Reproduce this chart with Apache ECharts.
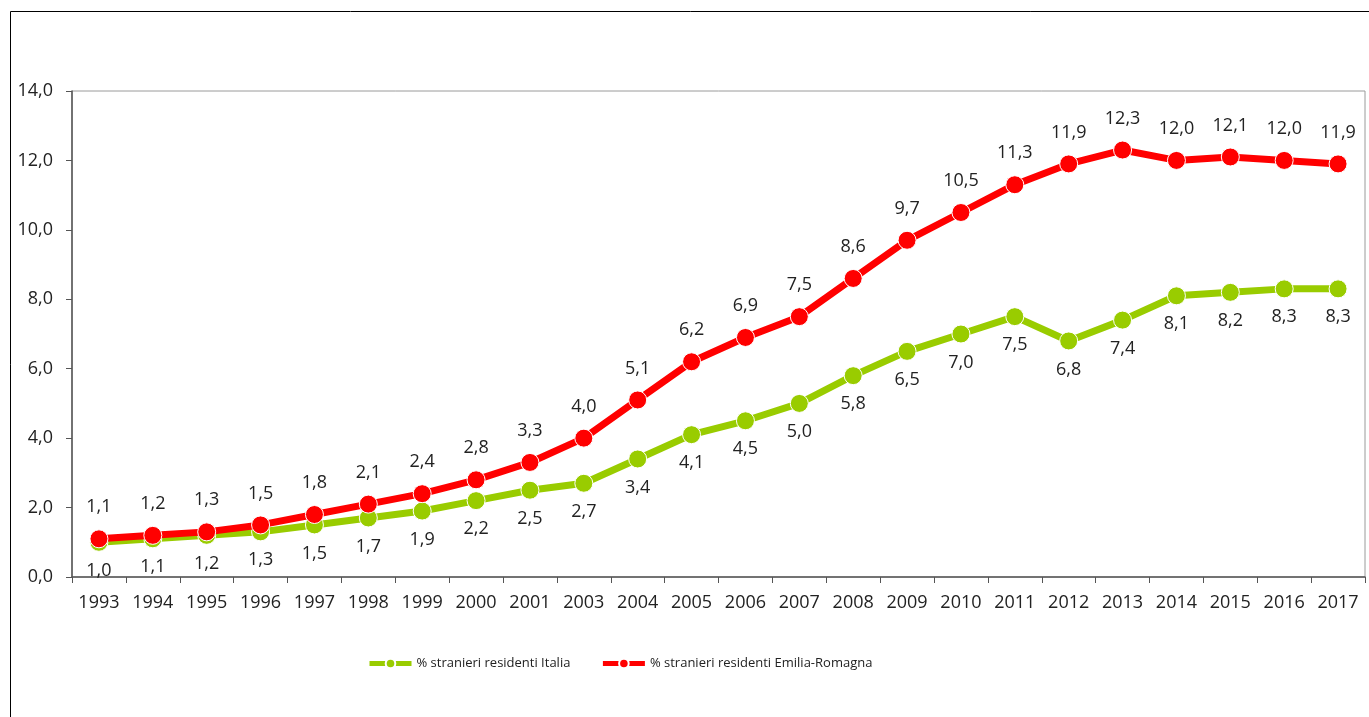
<!DOCTYPE html>
<html>
<head>
<meta charset="utf-8">
<script src="https://cdn.jsdelivr.net/npm/echarts@6/dist/echarts.min.js"></script>
<style>
  html, body { margin: 0; padding: 0; background: #fff; }
  #container { width: 1369px; height: 717px; }
</style>
</head>
<body>
<div id="container"></div>
<script>
// anni (il 2002 manca nella serie originale)
var anni = ['1993','1994','1995','1996','1997','1998','1999','2000','2001','2003','2004','2005',
            '2006','2007','2008','2009','2010','2011','2012','2013','2014','2015','2016','2017'];
var italia = [1.0,1.1,1.2,1.3,1.5,1.7,1.9,2.2,2.5,2.7,3.4,4.1,4.5,5.0,5.8,6.5,7.0,7.5,6.8,7.4,8.1,8.2,8.3,8.3];
var emilia = [1.1,1.2,1.3,1.5,1.8,2.1,2.4,2.8,3.3,4.0,5.1,6.2,6.9,7.5,8.6,9.7,10.5,11.3,11.9,12.3,12.0,12.1,12.0,11.9];
var nomeItalia = '% stranieri residenti Italia';
var nomeEmilia = '% stranieri residenti Emilia-Romagna';

var fontTesto = '"Open Sans", sans-serif';

function virgola(v) {
    return Number(v).toFixed(1).replace('.', ',');
}

var dom = document.getElementById('container');
var myChart = echarts.init(dom);
var option = {
    animation: false,
    textStyle: { fontFamily: fontTesto },
    graphic: [{
        type: 'rect',
        silent: true,
        shape: { x: 10.5, y: 11.5, width: 1400, height: 800 },
        style: { fill: 'none', stroke: '#000', lineWidth: 1 }
    }],
    legend: {
        left: 362,
        top: 652,
        itemWidth: 42,
        itemHeight: 12,
        itemGap: 30,
        lineStyle: { width: 5 },
        textStyle: { fontSize: 13, color: '#222', fontFamily: fontTesto },
        data: [nomeItalia, nomeEmilia]
    },
    grid: {
        left: 72,
        right: 4,
        top: 91,
        bottom: 140,
        show: true,
        borderColor: '#9a9a9a',
        borderWidth: 1,
        containLabel: false
    },
    xAxis: {
        type: 'category',
        boundaryGap: true,
        data: anni,
        axisLine: { lineStyle: { color: '#555', width: 1.5 } },
        axisTick: { show: true, length: 6, lineStyle: { color: '#555' } },
        axisLabel: { color: '#222', fontSize: 18, margin: 17, interval: 0 }
    },
    yAxis: {
        type: 'value',
        min: 0,
        max: 14,
        interval: 2,
        splitLine: { show: false },
        axisLine: { show: true, lineStyle: { color: '#555', width: 1.5 } },
        axisTick: { show: true, length: 6, lineStyle: { color: '#555' } },
        axisLabel: {
            color: '#222', fontSize: 18, margin: 19,
            formatter: function (v) { return virgola(v); }
        }
    },
    series: [{
        name: nomeItalia,
        type: 'line',
        data: italia,
        color: '#99cc00',
        lineStyle: { width: 7, color: '#99cc00' },
        symbol: 'circle',
        symbolSize: 18,
        itemStyle: { color: '#99cc00', borderColor: '#fff', borderWidth: 1 },
        label: {
            show: true,
            position: 'bottom',
            distance: 10,
            color: '#222',
            fontSize: 18,
            formatter: function (p) { return virgola(p.value); }
        },
        z: 2
    }, {
        name: nomeEmilia,
        type: 'line',
        data: emilia,
        color: '#ff0000',
        lineStyle: { width: 7, color: '#ff0000' },
        symbol: 'circle',
        symbolSize: 18,
        itemStyle: { color: '#ff0000', borderColor: '#fff', borderWidth: 1 },
        label: {
            show: true,
            position: 'top',
            distance: 13,
            color: '#222',
            fontSize: 18,
            formatter: function (p) { return virgola(p.value); }
        },
        z: 3
    }]
};
myChart.setOption(option);
</script>
</body>
</html>
